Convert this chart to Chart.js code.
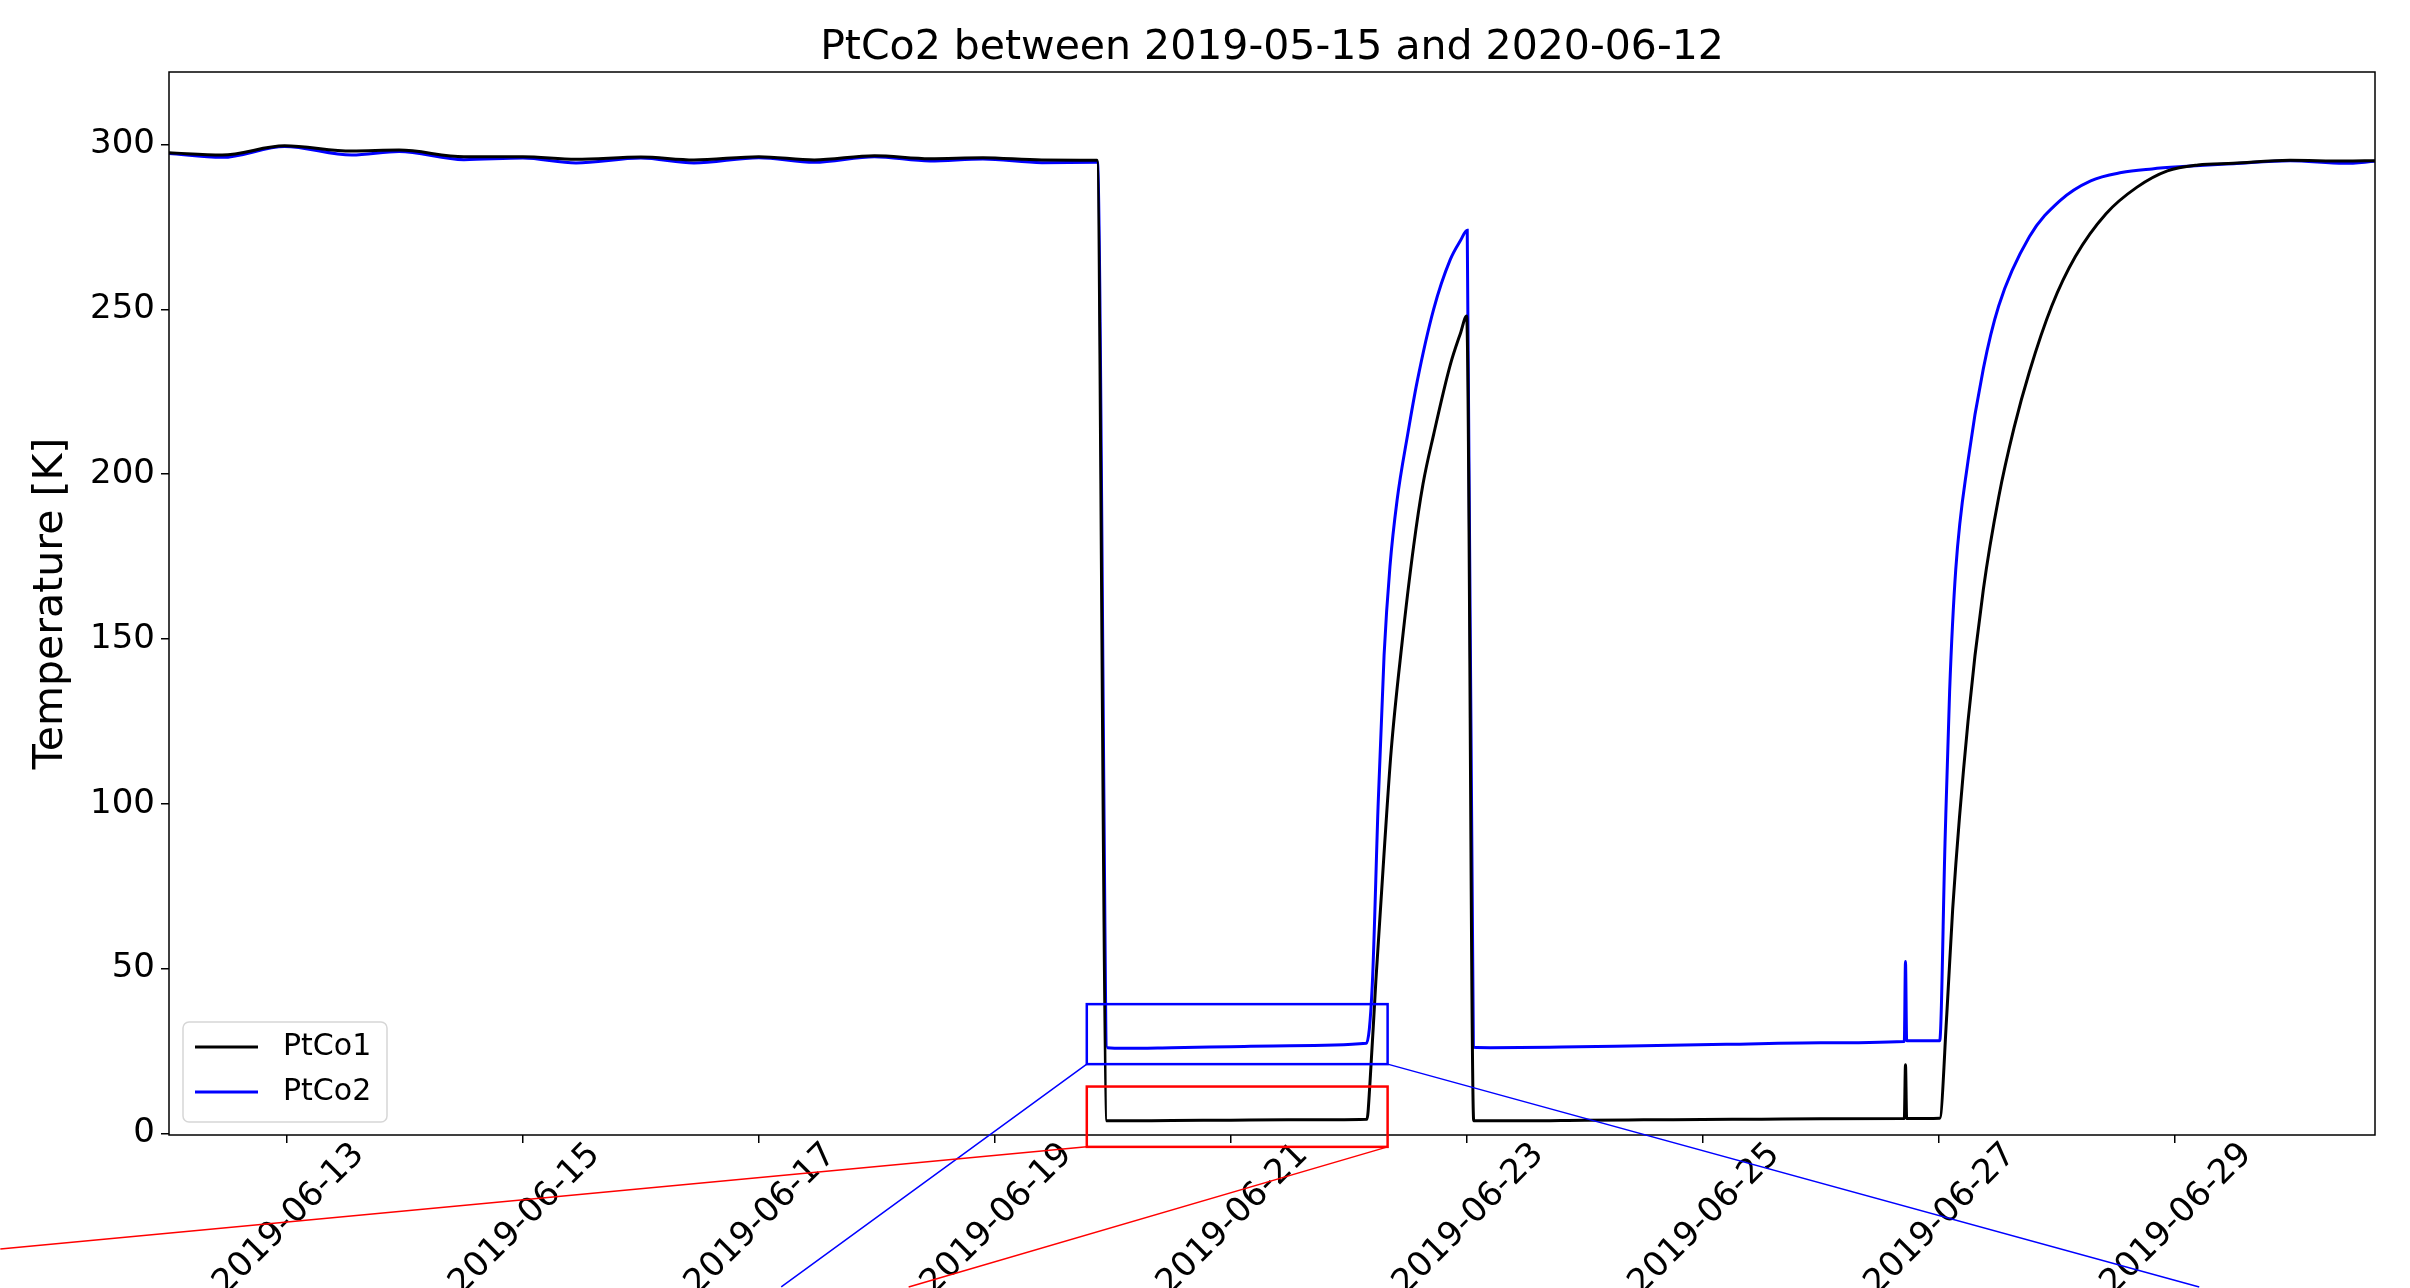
<!DOCTYPE html>
<html>
<head>
<meta charset="utf-8">
<title>PtCo2 between 2019-05-15 and 2020-06-12</title>
<script src="https://cdn.jsdelivr.net/npm/chart.js@4.4.0/dist/chart.umd.min.js"></script>
<style>
  html, body { margin: 0; padding: 0; background: #fff; }
  canvas { display: block; }
</style>
</head>
<body>
<canvas id="myChart" width="2410" height="1288"></canvas>
<script>
// x values are days counted from 2019-06-12 00:00
const ptco1Days = [0, 0.45, 0.98, 1.55, 1.95, 2.5, 3.0, 3.45, 4.0, 4.45, 5.0, 5.47, 5.98, 6.45, 6.9, 7.4, 7.866,
  7.951, 8.5, 9.0, 9.5, 10.155, 10.18, 10.23, 10.30, 10.36, 10.45, 10.55, 10.63, 10.72, 10.86, 10.95, 11.0,
  11.06, 11.5, 12.0, 12.5, 13.0, 13.5, 14.0, 14.71, 14.72, 14.73, 15.01, 15.07, 15.12, 15.25, 15.38, 15.51,
  15.64, 15.77, 15.96, 16.16, 16.42, 16.68, 16.94, 17.2, 17.5, 17.98, 18.44, 18.7];
const ptco1Temps = [297.5, 296.8, 299.6, 298.0, 298.3, 296.3, 296.3, 295.5, 296.2, 295.3, 296.3, 295.3, 296.6, 295.7, 296.0, 295.3, 295.2,
  3.8, 3.9, 4.0, 4.1, 4.3, 15, 46, 85, 116, 148, 178, 197, 212, 233, 243, 248,
  3.8, 3.8, 4.0, 4.1, 4.2, 4.3, 4.4, 4.5, 20.8, 4.5, 4.6, 36, 68, 125, 165, 193,
  214, 231, 251, 266, 279, 287, 292, 293.8, 294.3, 295.2, 295.0, 295.1];

const ptco2Days = [0, 0.45, 0.98, 1.55, 1.95, 2.5, 3.0, 3.45, 4.0, 4.45, 5.0, 5.47, 5.98, 6.45, 6.9, 7.4, 7.87,
  7.955, 8.1, 8.5, 9.0, 9.5, 10.15, 10.2, 10.25, 10.3, 10.35, 10.41, 10.5, 10.58, 10.72, 10.86, 10.95, 11.005,
  11.057, 11.2, 11.8, 12.5, 13.2, 14.0, 14.71, 14.72, 14.73, 15.01, 15.055, 15.094, 15.146, 15.25, 15.38, 15.51,
  15.77, 16.03, 16.29, 16.55, 16.81, 17.07, 17.5, 17.98, 18.44, 18.7];
const ptco2Temps = [297.3, 296.1, 299.4, 296.8, 297.9, 295.4, 295.9, 294.4, 295.9, 294.4, 296.0, 294.6, 296.3, 295.0, 295.6, 294.5, 294.6,
  26.0, 25.8, 26.0, 26.3, 26.6, 27.3, 45, 100, 145, 172, 192, 212, 228, 250, 265, 271, 274,
  26.1, 26.0, 26.2, 26.6, 27.0, 27.5, 27.9, 52.1, 28.1, 28.1, 88, 134, 171, 204, 232, 251,
  272, 283, 289, 291.5, 292.6, 293.3, 294.2, 295.1, 294.3, 294.9];

const xTickDays = [1, 3, 5, 7, 9, 11, 13, 15, 17];
const xTickLabels = ['2019-06-13', '2019-06-15', '2019-06-17', '2019-06-19', '2019-06-21',
  '2019-06-23', '2019-06-25', '2019-06-27', '2019-06-29'];
const yTicks = [0, 50, 100, 150, 200, 250, 300];

// zoomed regions: [dayFrom, dayTo, tempFrom, tempTo]
const zoomBoxBlue = [7.78, 10.33, 21.0, 39.2];
const zoomBoxRed = [7.78, 10.33, -4.1, 14.2];
// far ends of the connector lines, as [day, temp]
const blueLinks = [[5.19, -46.6], [17.21, -46.6]];
const redLinks = [[-1.43, -35.1], [6.27, -46.6]];

const FONT = 'DejaVu Sans';

function pairs(xs, ys) {
  return xs.map((d, i) => ({ x: d, y: ys[i] }));
}

const extras = {
  id: 'extras',
  afterDatasetsDraw(chart) {
    const { ctx, chartArea: a, scales: { x, y } } = chart;
    ctx.save();

    // frame around the plot
    ctx.strokeStyle = '#000';
    ctx.lineWidth = 1.5;
    ctx.strokeRect(a.left, a.top, a.right - a.left, a.bottom - a.top);

    // zoom indicators
    const drawZoom = (box, links, color) => {
      const l = x.getPixelForValue(box[0]), r = x.getPixelForValue(box[1]);
      const b = y.getPixelForValue(box[2]), t = y.getPixelForValue(box[3]);
      ctx.strokeStyle = color;
      ctx.lineWidth = 2.5;
      ctx.strokeRect(l, t, r - l, b - t);
      ctx.lineWidth = 1.5;
      ctx.beginPath();
      ctx.moveTo(l, b);
      ctx.lineTo(x.getPixelForValue(links[0][0]), y.getPixelForValue(links[0][1]));
      ctx.moveTo(r, b);
      ctx.lineTo(x.getPixelForValue(links[1][0]), y.getPixelForValue(links[1][1]));
      ctx.stroke();
    };
    drawZoom(zoomBoxBlue, blueLinks, 'blue');
    drawZoom(zoomBoxRed, redLinks, 'red');

    // legend, lower left inside the plot
    const bx = a.left + 14, by = a.bottom - 113, bw = 204, bh = 100;
    ctx.fillStyle = 'rgba(255,255,255,0.8)';
    ctx.strokeStyle = '#d6d6d6';
    ctx.lineWidth = 1.5;
    ctx.beginPath();
    ctx.roundRect(bx, by, bw, bh, 6);
    ctx.fill();
    ctx.stroke();
    ctx.font = '30px "' + FONT + '"';
    ctx.textBaseline = 'middle';
    ctx.textAlign = 'left';
    chart.data.datasets.forEach((ds, i) => {
      const ly = by + 25 + i * 45;
      ctx.strokeStyle = ds.borderColor;
      ctx.lineWidth = 3;
      ctx.beginPath();
      ctx.moveTo(bx + 12, ly);
      ctx.lineTo(bx + 75, ly);
      ctx.stroke();
      ctx.fillStyle = '#000';
      ctx.fillText(ds.label, bx + 100, ly);
    });
    ctx.restore();
  }
};

const ctx = document.getElementById('myChart').getContext('2d');
const myChart = new Chart(ctx, {
  type: 'line',
  data: {
    datasets: [{
      label: 'PtCo1',
      data: pairs(ptco1Days, ptco1Temps),
      borderColor: '#000000',
      borderWidth: 3,
      pointRadius: 0,
      cubicInterpolationMode: 'monotone'
    }, {
      label: 'PtCo2',
      data: pairs(ptco2Days, ptco2Temps),
      borderColor: '#0000ff',
      borderWidth: 3,
      pointRadius: 0,
      cubicInterpolationMode: 'monotone'
    }]
  },
  options: {
    responsive: false,
    animation: false,
    devicePixelRatio: 1,
    layout: { padding: { top: 0, right: 35, bottom: 0, left: 0 } },
    plugins: {
      legend: { display: false },
      tooltip: { enabled: false },
      title: {
        display: true,
        fullSize: false,
        text: 'PtCo2 between 2019-05-15 and 2020-06-12',
        color: '#000',
        font: { family: FONT, size: 41, weight: 'normal', lineHeight: 47 / 41 },
        padding: { top: 25, bottom: 0 }
      }
    },
    scales: {
      x: {
        type: 'linear',
        min: 0,
        max: 18.7,
        afterBuildTicks: s => { s.ticks = xTickDays.map(v => ({ value: v })); },
        afterFit: s => { s.height = 153; },
        border: { display: false },
        grid: { drawOnChartArea: false, drawTicks: true, tickLength: 8, color: '#000', lineWidth: 1.5 },
        ticks: {
          autoSkip: false,
          maxRotation: 45,
          minRotation: 45,
          padding: -8,
          labelOffset: 72,
          color: '#000',
          font: { family: FONT, size: 34 },
          callback: v => xTickLabels[xTickDays.indexOf(v)]
        }
      },
      y: {
        min: -0.5,
        max: 322,
        afterBuildTicks: s => { s.ticks = yTicks.map(v => ({ value: v })); },
        afterFit: s => { s.width = 169; },
        border: { display: false },
        grid: { drawOnChartArea: false, drawTicks: true, tickLength: 8, color: '#000', lineWidth: 1.5 },
        title: {
          display: true,
          text: 'Temperature [K]',
          color: '#000',
          font: { family: FONT, size: 41, lineHeight: 1.2 },
          padding: { top: 27, bottom: 0 }
        },
        ticks: {
          padding: 6,
          color: '#000',
          font: { family: FONT, size: 34 }
        }
      }
    }
  },
  plugins: [extras]
});
</script>
</body>
</html>
